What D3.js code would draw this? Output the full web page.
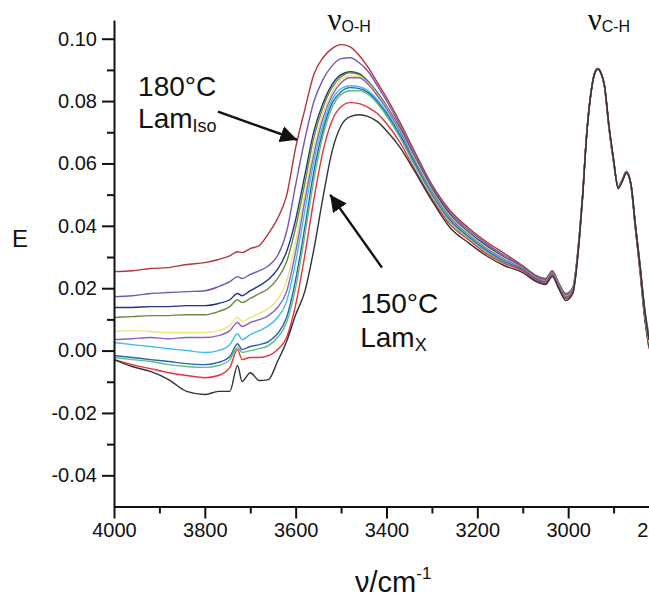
<!DOCTYPE html>
<html><head><meta charset="utf-8">
<script src="https://cdn.jsdelivr.net/npm/d3@7"></script>
<style>
body{margin:0;background:#fff}
svg{display:block;background:#fff}
text{font-family:"Liberation Sans",Arial,Helvetica,sans-serif;fill:#111}
</style>
</head><body>
<svg id="chart" width="649" height="601"></svg>
<script>
// wavenumber grid (cm^-1), shared by all spectra
const wavenumbers = [4000,3960,3920,3880,3840,3800,3770,3745,3728,3718,3700,3680,3660,3640,3620,3600,3580,3560,3540,3520,3500,3480,3460,3440,3420,3400,3370,3340,3300,3260,3220,3180,3140,
  3100,3070,3050,3035,3020,3005,2990,2975,2968,2960,2950,2942,2935,2928,2920,2910,2900,2890,2880,2872,2862,2852,2842,2832,2822];

// extinction E for each temperature step (180°C LamIso ... 150°C LamX)
const spec01 = [0.0253,0.0256,0.0263,0.0266,0.0276,0.0282,0.0292,0.0304,0.0317,0.0314,0.0327,0.0337,0.0375,0.0423,0.0497,0.0651,0.0772,0.0885,0.0939,0.0968,0.0981,0.0974,0.0946,0.0907,0.0859,0.0811,0.0731,0.0644,0.0532,0.0449,0.0394,0.0349,0.0311,
  0.0272,0.0240,0.0231,0.0256,0.0215,0.0183,0.0202,0.0378,0.0506,0.0683,0.0827,0.0888,0.0904,0.0891,0.0846,0.0712,0.0606,0.0526,0.0551,0.0574,0.0532,0.0391,0.0256,0.0109,0.0006];
const spec02 = [0.0173,0.0176,0.0183,0.0186,0.0189,0.0192,0.0205,0.0221,0.0237,0.0231,0.0244,0.0256,0.0272,0.0304,0.0381,0.0532,0.0676,0.0798,0.0869,0.0913,0.0936,0.0939,0.0923,0.0894,0.0849,0.0801,0.0721,0.0635,0.0526,0.0442,0.0388,0.0343,0.0304,
  0.0269,0.0237,0.0228,0.0253,0.0212,0.0180,0.0200,0.0375,0.0503,0.0681,0.0826,0.0888,0.0904,0.0890,0.0844,0.0710,0.0604,0.0524,0.0549,0.0572,0.0531,0.0392,0.0258,0.0112,0.0010];
const spec03 = [0.0138,0.0138,0.0141,0.0141,0.0144,0.0144,0.0151,0.0163,0.0183,0.0176,0.0192,0.0208,0.0228,0.0260,0.0317,0.0420,0.0561,0.0702,0.0792,0.0853,0.0885,0.0894,0.0888,0.0862,0.0827,0.0785,0.0712,0.0625,0.0519,0.0436,0.0381,0.0337,0.0298,
  0.0266,0.0234,0.0225,0.0250,0.0209,0.0177,0.0197,0.0373,0.0502,0.0681,0.0826,0.0889,0.0905,0.0892,0.0848,0.0714,0.0607,0.0525,0.0550,0.0573,0.0533,0.0395,0.0262,0.0117,0.0015];
const spec04 = [0.0106,0.0109,0.0112,0.0112,0.0115,0.0115,0.0125,0.0141,0.0163,0.0154,0.0167,0.0183,0.0199,0.0231,0.0285,0.0394,0.0535,0.0683,0.0779,0.0843,0.0878,0.0891,0.0885,0.0862,0.0824,0.0782,0.0708,0.0622,0.0516,0.0433,0.0378,0.0333,0.0295,
  0.0266,0.0234,0.0226,0.0251,0.0210,0.0178,0.0198,0.0374,0.0503,0.0681,0.0826,0.0887,0.0903,0.0890,0.0846,0.0713,0.0606,0.0525,0.0550,0.0573,0.0534,0.0398,0.0266,0.0122,0.0020];
const spec05 = [0.0061,0.0064,0.0061,0.0058,0.0058,0.0058,0.0064,0.0080,0.0106,0.0093,0.0106,0.0119,0.0135,0.0163,0.0221,0.0349,0.0503,0.0651,0.0760,0.0827,0.0869,0.0881,0.0878,0.0856,0.0821,0.0779,0.0705,0.0619,0.0513,0.0429,0.0375,0.0330,0.0295,
  0.0263,0.0231,0.0222,0.0247,0.0206,0.0174,0.0194,0.0372,0.0501,0.0680,0.0825,0.0887,0.0903,0.0890,0.0847,0.0714,0.0608,0.0527,0.0552,0.0574,0.0535,0.0400,0.0270,0.0128,0.0028];
const spec06 = [0.0035,0.0038,0.0042,0.0038,0.0042,0.0042,0.0048,0.0064,0.0090,0.0077,0.0090,0.0099,0.0112,0.0138,0.0189,0.0317,0.0478,0.0628,0.0744,0.0817,0.0859,0.0875,0.0875,0.0853,0.0817,0.0776,0.0702,0.0615,0.0510,0.0426,0.0372,0.0327,0.0292,
  0.0263,0.0231,0.0222,0.0247,0.0206,0.0173,0.0193,0.0371,0.0500,0.0679,0.0825,0.0888,0.0904,0.0891,0.0848,0.0715,0.0609,0.0527,0.0552,0.0575,0.0536,0.0402,0.0273,0.0133,0.0034];
const spec07 = [0.0026,0.0019,0.0013,0.0006,0.0000,-0.0006,0.0000,0.0019,0.0054,0.0035,0.0051,0.0064,0.0080,0.0106,0.0157,0.0285,0.0446,0.0606,0.0724,0.0804,0.0840,0.0849,0.0846,0.0833,0.0804,0.0766,0.0692,0.0609,0.0503,0.0420,0.0369,0.0324,0.0288,
  0.0260,0.0228,0.0218,0.0243,0.0202,0.0170,0.0190,0.0368,0.0498,0.0678,0.0824,0.0887,0.0903,0.0891,0.0848,0.0716,0.0610,0.0525,0.0550,0.0573,0.0537,0.0405,0.0278,0.0140,0.0044];
const spec08 = [-0.0016,-0.0022,-0.0029,-0.0035,-0.0042,-0.0045,-0.0038,-0.0019,0.0022,0.0003,0.0013,0.0019,0.0029,0.0054,0.0106,0.0228,0.0394,0.0574,0.0705,0.0792,0.0830,0.0843,0.0840,0.0827,0.0798,0.0760,0.0689,0.0606,0.0500,0.0417,0.0365,0.0321,0.0285,
  0.0260,0.0228,0.0219,0.0244,0.0203,0.0170,0.0190,0.0368,0.0498,0.0678,0.0824,0.0887,0.0903,0.0891,0.0849,0.0716,0.0610,0.0524,0.0549,0.0572,0.0536,0.0404,0.0277,0.0138,0.0040];
const spec09 = [-0.0022,-0.0029,-0.0035,-0.0045,-0.0051,-0.0054,-0.0048,-0.0029,0.0010,-0.0006,0.0000,0.0006,0.0016,0.0042,0.0090,0.0202,0.0369,0.0548,0.0689,0.0779,0.0821,0.0833,0.0833,0.0821,0.0792,0.0753,0.0683,0.0599,0.0497,0.0413,0.0362,0.0317,0.0282,
  0.0256,0.0224,0.0215,0.0240,0.0199,0.0167,0.0187,0.0366,0.0497,0.0677,0.0823,0.0886,0.0902,0.0890,0.0848,0.0716,0.0610,0.0523,0.0548,0.0571,0.0536,0.0406,0.0280,0.0143,0.0048];
const spec10 = [-0.0029,-0.0045,-0.0058,-0.0071,-0.0080,-0.0087,-0.0080,-0.0054,0.0003,-0.0029,-0.0022,-0.0022,-0.0016,0.0003,0.0042,0.0147,0.0304,0.0484,0.0638,0.0737,0.0782,0.0795,0.0792,0.0779,0.0760,0.0728,0.0667,0.0587,0.0487,0.0404,0.0356,0.0311,0.0279,
  0.0256,0.0224,0.0215,0.0240,0.0199,0.0166,0.0186,0.0365,0.0497,0.0678,0.0824,0.0888,0.0904,0.0892,0.0850,0.0718,0.0612,0.0522,0.0547,0.0570,0.0534,0.0401,0.0272,0.0132,0.0033];
const spec11 = [-0.0029,-0.0051,-0.0067,-0.0093,-0.0131,-0.0141,-0.0131,-0.0131,-0.0048,-0.0099,-0.0071,-0.0096,-0.0093,-0.0035,0.0029,0.0115,0.0189,0.0324,0.0490,0.0638,0.0721,0.0750,0.0756,0.0750,0.0734,0.0705,0.0651,0.0580,0.0481,0.0394,0.0346,0.0304,0.0272,
  0.0250,0.0221,0.0212,0.0237,0.0196,0.0160,0.0182,0.0362,0.0494,0.0676,0.0823,0.0886,0.0902,0.0891,0.0850,0.0720,0.0614,0.0519,0.0545,0.0570,0.0536,0.0403,0.0275,0.0135,0.0035];

const spectra = [spec01,spec02,spec03,spec04,spec05,spec06,spec07,spec08,spec09,spec10,spec11];
const spectrumColors = ["#b5343f","#7657b0","#1f3580","#6a8c3e","#eee27e","#8a63c4","#3fc0e3","#2b5fb8","#5bbf7a","#e8333c","#333333"];

// axis ticks
const xMajorTicks = [4000,3800,3600,3400,3200,3000,2800];
const xMinorTicks = [3900,3700,3500,3300,3100,2900];
const yMajorTicks = [-0.04,-0.02,0.00,0.02,0.04,0.06,0.08,0.10];
const yMinorTicks = [-0.03,-0.01,0.01,0.03,0.05,0.07,0.09];

const svg = d3.select("#chart");
const x = d3.scaleLinear().domain([4000,2800]).range([114,659]);
const y = d3.scaleLinear().domain([-0.05,0.106]).range([506.5,20]);

// spectra
const line = d3.line().x(d=>x(d[0])).y(d=>y(d[1])).curve(d3.curveMonotoneX);
const g = svg.append("g");
spectra.forEach((s,i)=>{
  const pts = wavenumbers.map((w,j)=>[w,s[j]]).filter(d=>d[1]!==undefined);
  g.append("path").attr("d",line(pts)).attr("fill","none")
   .attr("stroke",spectrumColors[i]).attr("stroke-width",1.4).attr("stroke-linejoin","round");
});

// axes
const xAxis = svg.append("g").attr("transform",`translate(0,${y(-0.05)})`)
  .call(d3.axisBottom(x).tickValues(xMajorTicks).tickFormat(d3.format("d")).tickSize(12).tickPadding(4.5).tickSizeOuter(0));
const xMinor = svg.append("g").attr("transform",`translate(0,${y(-0.05)})`)
  .call(d3.axisBottom(x).tickValues(xMinorTicks).tickFormat("").tickSize(7).tickSizeOuter(0));
xMinor.select(".domain").remove();
const yAxis = svg.append("g").attr("transform",`translate(${x(4000)},0)`)
  .call(d3.axisLeft(y).tickValues(yMajorTicks).tickFormat(d=>d.toFixed(2)).tickSize(12).tickPadding(5).tickSizeOuter(0));
const yMinor = svg.append("g").attr("transform",`translate(${x(4000)},0)`)
  .call(d3.axisLeft(y).tickValues(yMinorTicks).tickFormat("").tickSize(7).tickSizeOuter(0));
yMinor.select(".domain").remove();
svg.selectAll(".domain, .tick line").attr("stroke","#111").attr("stroke-width",2);
svg.selectAll(".tick text").attr("font-size",20).attr("font-family","'Liberation Sans',Arial,sans-serif").attr("fill","#111");

// axis titles
svg.append("text").attr("x",12).attr("y",247).attr("font-size",24).text("E");
const xt = svg.append("text").attr("x",355).attr("y",592).attr("font-size",29);
xt.append("tspan").text("\u03bd/cm");
xt.append("tspan").attr("font-size",17).attr("dy",-13).text("-1");

// band labels
function band(wn, sub){
  const t = svg.append("text").attr("x",x(wn)).attr("y",30);
  t.append("tspan").attr("font-family","'Liberation Serif','Times New Roman',serif").attr("font-size",31).text("\u03bd");
  t.append("tspan").attr("font-size",16).attr("dy",2).text(sub);
}
band(3530,"O-H");
band(2957,"C-H");

// temperature annotations
function note(wn, e1, e2, big, lam, sub){
  svg.append("text").attr("x",x(wn)).attr("y",y(e1)).attr("font-size",28).text(big);
  const t = svg.append("text").attr("x",x(wn)).attr("y",y(e2)).attr("font-size",28);
  t.append("tspan").text(lam);
  t.append("tspan").attr("font-size",18).attr("dy",4).text(sub);
}
note(3947,0.0817,0.0715,"180°C","Lam","Iso");
note(3458,0.0122,0.0011,"150°C","Lam","X");

svg.append("defs").append("marker").attr("id","ah").attr("viewBox","0 0 10 10")
  .attr("refX",10).attr("refY",5).attr("markerWidth",7).attr("markerHeight",7)
  .attr("markerUnits","strokeWidth").attr("orient","auto")
  .append("path").attr("d","M0,0L10,5L0,10z").attr("fill","#111");
function arrow(w0,e0,w1,e1){
  svg.append("line").attr("x1",x(w0)).attr("y1",y(e0)).attr("x2",x(w1)).attr("y2",y(e1))
    .attr("stroke","#111").attr("stroke-width",2.4).attr("marker-end","url(#ah)");
}
arrow(3771,0.0766,3597,0.0676);
arrow(3410,0.0266,3524,0.0500);
</script>
</body></html>
